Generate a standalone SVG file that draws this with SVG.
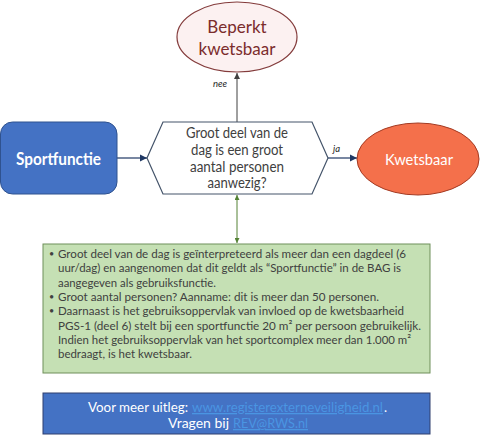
<svg xmlns="http://www.w3.org/2000/svg" width="480" height="441" viewBox="0 0 480 441">
<style>
text{font-family:Lato,"Open Sans","Liberation Sans",sans-serif}
.hex{fill:#fff;stroke:#44546a;stroke-width:1.2}
.ht{font-size:14.5px;fill:#404040;text-anchor:middle}
.bt{font-size:12px;fill:#404040}
.bl{font-size:9px;fill:#404040}
.lbl{font-size:9.5px;font-style:italic;fill:#262626}
.link{fill:#4a95e2;text-decoration:underline}
.w{fill:#fff}
</style>
<defs>
<marker id="aG" viewBox="0 0 10 10" refX="10" refY="5" markerWidth="6" markerHeight="6" orient="auto-start-reverse"><path d="M0,0L10,5L0,10z" fill="#404040"/></marker>
<marker id="aN" viewBox="0 0 10 10" refX="10" refY="5" markerWidth="6" markerHeight="6" orient="auto-start-reverse"><path d="M0,0L10,5L0,10z" fill="#1f3864"/></marker>
<marker id="aV" viewBox="0 0 10 10" refX="10" refY="5" markerWidth="5" markerHeight="5" orient="auto-start-reverse"><path d="M0,0L10,5L0,10z" fill="#548235"/></marker>
</defs>
<g id="connectors">
<line x1="237" y1="122" x2="237" y2="73" stroke="#404040" stroke-width="1" marker-end="url(#aG)"/>
<text class="lbl" x="213" y="87">nee</text>
<line x1="117" y1="158" x2="147" y2="158" stroke="#1f3864" stroke-width="1.2" marker-end="url(#aN)"/>
<line x1="328" y1="158" x2="357" y2="158" stroke="#1f3864" stroke-width="1.2" marker-end="url(#aN)"/>
<text class="lbl" x="333" y="152">ja</text>
<line x1="237" y1="195" x2="237" y2="243" stroke="#548235" stroke-width="1" marker-start="url(#aV)" marker-end="url(#aV)"/>
</g>
<g id="beperkt">
<ellipse cx="237" cy="37" rx="60" ry="35" fill="#fcf1f1" stroke="#843c3c" stroke-width="1.2"/>
<text x="237" y="33" text-anchor="middle" font-size="17" fill="#7b2c2c">Beperkt</text>
<text x="237" y="55" text-anchor="middle" font-size="17" fill="#7b2c2c">kwetsbaar</text>
</g>
<g id="sportfunctie">
<rect x="0.5" y="122" width="116.5" height="72" rx="12" fill="#4472c4" stroke="#2f528f" stroke-width="1"/>
<text x="58.5" y="164.5" text-anchor="middle" font-size="16.5" font-weight="bold" class="w" textLength="85" lengthAdjust="spacingAndGlyphs">Sportfunctie</text>
</g>
<g id="vraag">
<polygon class="hex" points="147,158 163,122 312,122 328,158 312,194 163,194"/>
<text class="ht" x="237" y="138" textLength="102" lengthAdjust="spacingAndGlyphs">Groot deel van de</text>
<text class="ht" x="237" y="155" textLength="92" lengthAdjust="spacingAndGlyphs">dag is een groot</text>
<text class="ht" x="237" y="171.5" textLength="94" lengthAdjust="spacingAndGlyphs">aantal personen</text>
<text class="ht" x="237" y="188" textLength="59" lengthAdjust="spacingAndGlyphs">aanwezig?</text>
</g>
<g id="kwetsbaar">
<ellipse cx="418" cy="159" rx="61" ry="36" fill="#f4704b" stroke="#a33a22" stroke-width="1"/>
<text x="419" y="165" text-anchor="middle" font-size="16" class="w" textLength="68" lengthAdjust="spacingAndGlyphs">Kwetsbaar</text>
</g>
<g id="toelichting">
<rect x="43" y="244" width="387" height="129" fill="#c5e0b4" stroke="#6f8f5a" stroke-width="1"/>
<text class="bl" x="49" y="257">•</text>
<text class="bt" x="58" y="258" textLength="348" lengthAdjust="spacingAndGlyphs">Groot deel van de dag  is geïnterpreteerd als meer dan een dagdeel (6</text>
<text class="bt" x="58" y="272.3" textLength="343" lengthAdjust="spacingAndGlyphs">uur/dag) en aangenomen dat dit geldt als “Sportfunctie” in de BAG is</text>
<text class="bt" x="58" y="286.6" textLength="158" lengthAdjust="spacingAndGlyphs">aangegeven als gebruiksfunctie.</text>
<text class="bl" x="49" y="299.9">•</text>
<text class="bt" x="58" y="300.9" textLength="321" lengthAdjust="spacingAndGlyphs">Groot aantal personen? Aanname: dit is meer dan 50 personen.</text>
<text class="bl" x="49" y="314.2">•</text>
<text class="bt" x="58" y="315.2" textLength="346" lengthAdjust="spacingAndGlyphs">Daarnaast is het gebruiksoppervlak van invloed op de kwetsbaarheid</text>
<text class="bt" x="58" y="329.5" textLength="363" lengthAdjust="spacingAndGlyphs">PGS-1 (deel 6) stelt bij een sportfunctie 20 m² per persoon gebruikelijk.</text>
<text class="bt" x="58" y="343.8" textLength="353" lengthAdjust="spacingAndGlyphs">Indien het gebruiksoppervlak van het sportcomplex meer dan 1.000 m²</text>
<text class="bt" x="58" y="358.1" textLength="134" lengthAdjust="spacingAndGlyphs">bedraagt, is het kwetsbaar.</text>
</g>
<g id="uitleg">
<rect x="43" y="393" width="387" height="41" fill="#4472c4" stroke="#2f3f6f" stroke-width="1"/>
<text x="88" y="412" font-size="13" class="w" textLength="100" lengthAdjust="spacingAndGlyphs">Voor meer uitleg:</text>
<text x="192" y="412" font-size="13" class="link" textLength="191" lengthAdjust="spacingAndGlyphs">www.registerexterneveiligheid.nl</text>
<text x="384" y="412" font-size="13" class="w">.</text>
<text x="168" y="428" font-size="13" class="w" textLength="61" lengthAdjust="spacingAndGlyphs">Vragen bij</text>
<text x="233" y="428" font-size="13" class="link" textLength="75" lengthAdjust="spacingAndGlyphs">REV@RWS.nl</text>
</g>
</svg>
